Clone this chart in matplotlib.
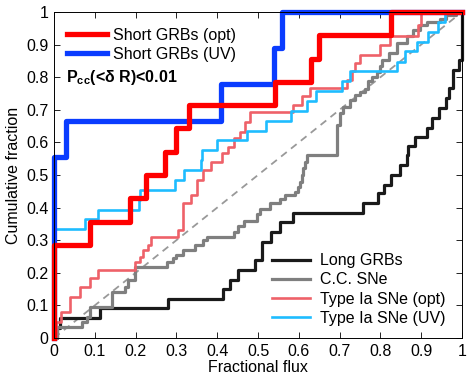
import numpy as np
import matplotlib
matplotlib.use('Agg')
import matplotlib.pyplot as plt

plt.rcParams['font.family'] = ['Liberation Sans', 'DejaVu Sans']
plt.rcParams['mathtext.fontset'] = 'custom'
plt.rcParams['mathtext.rm'] = 'Liberation Sans'
plt.rcParams['mathtext.bf'] = 'Liberation Sans:bold'

# step positions (fractional flux) and cumulative fraction after each step
sgrb_opt_flux = [0, 0.088, 0.186, 0.226, 0.272, 0.30, 0.33, 0.542, 0.63, 0.65, 0.827]
sgrb_opt_frac = [0.286, 0.357, 0.429, 0.5, 0.571, 0.643, 0.714, 0.786, 0.857, 0.929, 1.0]

sgrb_uv_flux = [0, 0.03, 0.41, 0.54, 0.56]
sgrb_uv_frac = [0.556, 0.667, 0.778, 0.889, 1.0]

lgrb_flux = [0.008, 0.015, 0.113, 0.28, 0.415, 0.431, 0.452, 0.493, 0.511, 0.533,
             0.555, 0.585, 0.757, 0.794, 0.81, 0.827, 0.848, 0.865, 0.868, 0.886,
             0.913, 0.926, 0.943, 0.96, 0.968, 0.978, 0.993, 1.0]
lgrb_frac = [0.03, 0.06, 0.091, 0.121, 0.15, 0.178, 0.209, 0.239, 0.295, 0.326,
             0.355, 0.384, 0.413, 0.444, 0.469, 0.50, 0.53, 0.561, 0.588, 0.617,
             0.645, 0.674, 0.706, 0.735, 0.766, 0.822, 0.853, 1.0]

ccsn_flux = [0.007, 0.068, 0.08, 0.088, 0.141, 0.174, 0.182, 0.199, 0.276, 0.292,
             0.30, 0.317, 0.346, 0.366, 0.374, 0.44, 0.452, 0.466, 0.497, 0.505,
             0.53, 0.554, 0.566, 0.59, 0.599, 0.603, 0.607, 0.611, 0.615, 0.619,
             0.693, 0.70, 0.709, 0.725, 0.738, 0.75, 0.762, 0.77, 0.779, 0.791,
             0.80, 0.803, 0.82, 0.84, 0.864, 0.88, 0.897, 0.913, 0.946, 0.962, 0.985]
ccsn_frac = [0.035, 0.05, 0.065, 0.094, 0.142, 0.157, 0.178, 0.219, 0.234, 0.244,
             0.255, 0.27, 0.285, 0.30, 0.31, 0.326, 0.345, 0.36, 0.38, 0.396,
             0.413, 0.425, 0.439, 0.449, 0.464, 0.48, 0.50, 0.52, 0.541, 0.561,
             0.653, 0.689, 0.71, 0.73, 0.745, 0.755, 0.765, 0.787, 0.802, 0.817,
             0.833, 0.853, 0.873, 0.904, 0.925, 0.945, 0.96, 0.97, 0.98, 0.99, 1.0]

ia_opt_flux = [0.005, 0.018, 0.038, 0.063, 0.088, 0.108, 0.198, 0.21, 0.218, 0.23,
               0.238, 0.305, 0.317, 0.337, 0.35, 0.366, 0.385, 0.411, 0.427, 0.44,
               0.456, 0.468, 0.48, 0.587, 0.607, 0.627, 0.717, 0.73, 0.738, 0.75,
               0.798, 0.823, 0.892, 0.90]
ia_opt_frac = [0.05, 0.081, 0.127, 0.157, 0.183, 0.209, 0.234, 0.249, 0.27, 0.285,
               0.309, 0.331, 0.413, 0.439, 0.485, 0.515, 0.54, 0.567, 0.587, 0.613,
               0.633, 0.664, 0.694, 0.716, 0.741, 0.767, 0.792, 0.818, 0.844, 0.869,
               0.90, 0.925, 0.961, 1.0]

ia_uv_flux = [0, 0.077, 0.108, 0.209, 0.212, 0.297, 0.319, 0.360, 0.362, 0.40,
              0.472, 0.52, 0.58, 0.619, 0.642, 0.705, 0.726, 0.841, 0.86, 0.89,
              0.917, 0.941, 0.959]
ia_uv_frac = [0.333, 0.364, 0.394, 0.424, 0.455, 0.485, 0.515, 0.545, 0.576, 0.606,
              0.636, 0.667, 0.697, 0.727, 0.758, 0.788, 0.818, 0.848, 0.879, 0.909,
              0.939, 0.970, 1.0]

ticks = np.arange(0, 1.01, 0.1)
tick_labels = ['0', '0.1', '0.2', '0.3', '0.4', '0.5', '0.6', '0.7', '0.8', '0.9', '1']


def cdf_step(ax, flux, frac, **kw):
    xs = [0] + list(flux) + [1]
    ys = [0] + list(frac) + [frac[-1]]
    return ax.step(xs, ys, where='post', clip_on=False, **kw)[0]


fig = plt.figure(figsize=(4.71, 3.79), dpi=100)
ax = fig.add_axes([54 / 471, 41 / 379, 408 / 471, 326 / 379])

ax.plot([0, 1], [0, 1], '--', color='#999999', lw=1.3, dashes=(4, 3))
l_lgrb = cdf_step(ax, lgrb_flux, lgrb_frac, color='#1a1a1a', lw=2.3)
l_ccsn = cdf_step(ax, ccsn_flux, ccsn_frac, color='#7f7f7f', lw=2.3)
l_iao = cdf_step(ax, ia_opt_flux, ia_opt_frac, color='#ee6169', lw=1.9)
l_iau = cdf_step(ax, ia_uv_flux, ia_uv_frac, color='#1ebcff', lw=1.9)
l_suv = cdf_step(ax, sgrb_uv_flux, sgrb_uv_frac, color='#0a3cff', lw=3.8)
l_sop = cdf_step(ax, sgrb_opt_flux, sgrb_opt_frac, color='#ff0000', lw=3.8)

ax.set_xlim(0, 1)
ax.set_ylim(0, 1)
ax.set_xticks(ticks)
ax.set_xticklabels(tick_labels)
ax.set_yticks(ticks)
ax.set_yticklabels(tick_labels)
ax.tick_params(direction='in', top=True, right=True, length=4, width=0.6,
               labelsize=11.5, pad=4)
for s in ax.spines.values():
    s.set_linewidth(0.7)

ax.set_xlabel('Fractional flux', fontsize=11.5, labelpad=1)
ax.set_ylabel('Cumulative fraction', fontsize=11.5, labelpad=4)

leg1 = ax.legend([l_sop, l_suv], ['Short GRBs (opt)', 'Short GRBs (UV)'],
                 loc='upper left', bbox_to_anchor=(0.032, 0.952), frameon=False,
                 fontsize=11.5, handlelength=2.5, handletextpad=0.4,
                 labelspacing=0.26, borderpad=0, borderaxespad=0)
ax.add_artist(leg1)
ax.text(0.03, 0.80, r'P$_{\mathbf{cc}}$(<δ R)<0.01', transform=ax.transAxes,
        fontsize=11.5, fontweight='bold', va='center', ha='left')

ax.legend([l_lgrb, l_ccsn, l_iao, l_iau],
          ['Long GRBs', 'C.C. SNe', 'Type Ia SNe (opt)', 'Type Ia SNe (UV)'],
          loc='upper left', bbox_to_anchor=(0.534, 0.26), frameon=False,
          fontsize=11.5, handlelength=2.4, handletextpad=0.6,
          labelspacing=0.26, borderpad=0, borderaxespad=0)

fig.savefig('out.png', dpi=100)
